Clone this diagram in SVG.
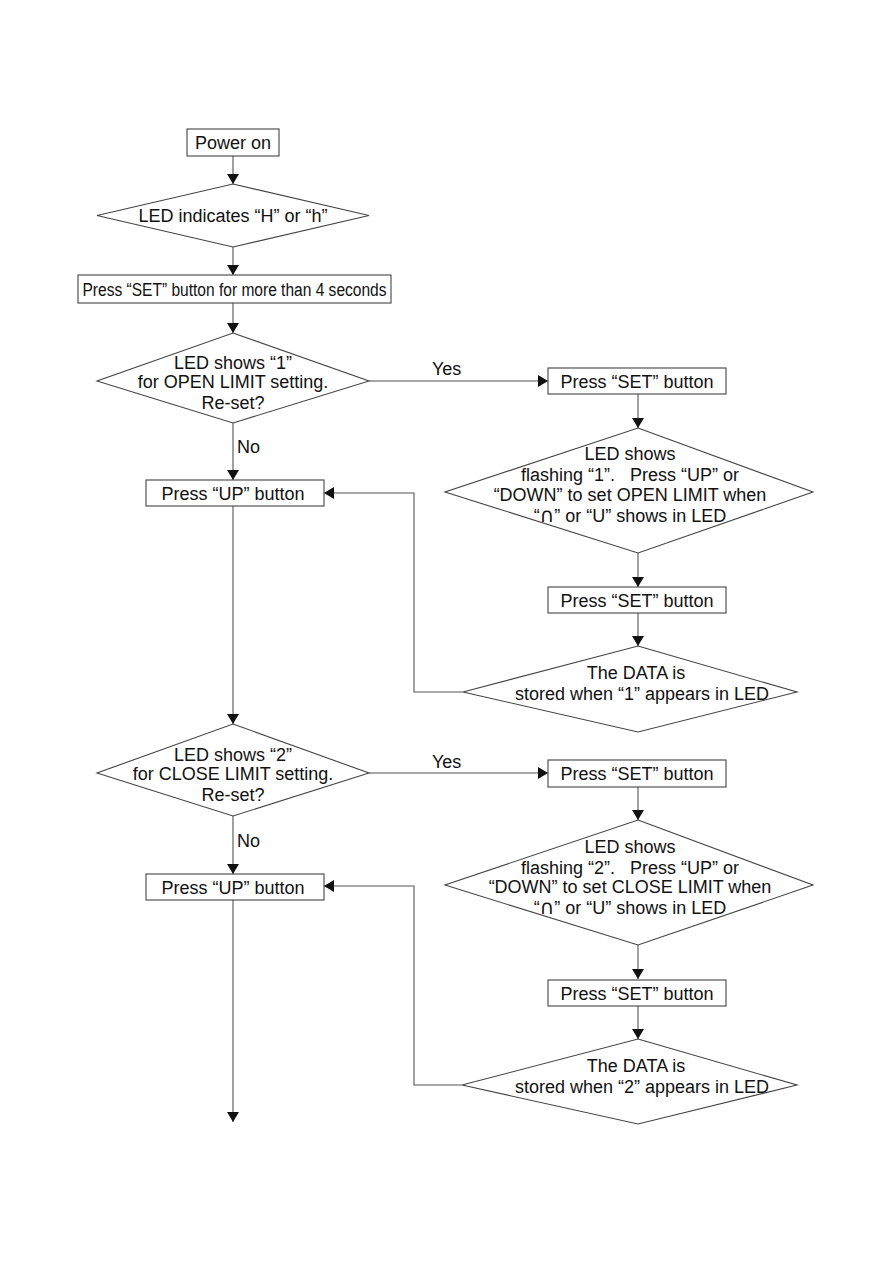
<svg xmlns="http://www.w3.org/2000/svg" width="893" height="1263" viewBox="0 0 893 1263">
<defs>
<marker id="ah" markerWidth="10" markerHeight="14" refX="10" refY="7" orient="auto" markerUnits="userSpaceOnUse">
<path d="M0,1 L10,7 L0,13 Z" fill="#111"/>
</marker>
<style>
.b{fill:#fff;stroke:#444;stroke-width:1.1}
.t{font-family:"Liberation Sans",Arial,"DejaVu Sans",sans-serif;font-size:18px;fill:#111;text-anchor:middle}
.l{font-family:"Liberation Sans",Arial,"DejaVu Sans",sans-serif;font-size:18px;fill:#111}
.c{fill:none;stroke:#555;stroke-width:1.1}
.a{marker-end:url(#ah)}
.cap{font-family:"DejaVu Sans",sans-serif;font-size:20px}
</style>
</defs>
<rect width="893" height="1263" fill="#fff"/>
<g id="connectors">
<line class="c a" x1="233" y1="156" x2="233" y2="184"/>
<line class="c a" x1="233" y1="247" x2="233" y2="275"/>
<line class="c a" x1="233" y1="303" x2="233" y2="333"/>
<line class="c a" x1="233" y1="423" x2="233" y2="480"/>
<line class="c a" x1="369" y1="381" x2="548" y2="381"/>
<line class="c a" x1="638" y1="394" x2="638" y2="428"/>
<line class="c a" x1="638" y1="553" x2="638" y2="587"/>
<line class="c a" x1="638" y1="613" x2="638" y2="646"/>
<polyline class="c a" points="463,692 414,692 414,493 324,493"/>
<line class="c a" x1="233" y1="506" x2="233" y2="724"/>
<line class="c a" x1="233" y1="816" x2="233" y2="874"/>
<line class="c a" x1="369" y1="773" x2="548" y2="773"/>
<line class="c a" x1="638" y1="787" x2="638" y2="820"/>
<line class="c a" x1="638" y1="945" x2="638" y2="979"/>
<line class="c a" x1="638" y1="1006" x2="638" y2="1039"/>
<polyline class="c a" points="462,1085 414,1085 414,886 324,886"/>
<line class="c a" x1="233" y1="900" x2="233" y2="1122"/>
<text class="l" x="432" y="375">Yes</text>
<text class="l" x="237" y="453">No</text>
<text class="l" x="432" y="768">Yes</text>
<text class="l" x="237" y="847">No</text>
</g>
<g id="power-on">
<rect class="b" x="187" y="129" width="92" height="27"/>
<text class="t" x="233" y="149">Power on</text>
</g>
<g id="led-h">
<polygon class="b" points="233,184 369,215.5 233,247 97,215.5"/>
<text class="t" x="233" y="222">LED indicates “H” or “h”</text>
</g>
<g id="press-set-4s">
<rect class="b" x="78" y="275" width="313" height="28"/>
<text class="t" x="234.5" y="296" textLength="304" lengthAdjust="spacingAndGlyphs">Press “SET” button for more than 4 seconds</text>
</g>
<g id="led-1">
<polygon class="b" points="233,333 369,381 233,423 97,381"/>
<text class="t" x="233" y="369">LED shows “1”</text>
<text class="t" x="233" y="388">for OPEN LIMIT setting.</text>
<text class="t" x="233" y="409">Re-set?</text>
</g>
<g id="press-up-1">
<rect class="b" x="146" y="480" width="178" height="26"/>
<text class="t" x="233" y="500">Press “UP” button</text>
</g>
<g id="press-set-1a">
<rect class="b" x="548" y="368" width="178" height="26"/>
<text class="t" x="637" y="388">Press “SET” button</text>
</g>
<g id="flash-1">
<polygon class="b" points="638,428 813,492 638,553 445,492"/>
<text class="t" x="630" y="460">LED shows</text>
<text class="t" x="630" y="481" xml:space="preserve">flashing “1”.   Press “UP” or</text>
<text class="t" x="630" y="501">“DOWN” to set OPEN LIMIT when</text>
<text class="t" x="630" y="522">“<tspan class="cap">∩</tspan>” or “U” shows in LED</text>
</g>
<g id="press-set-1b">
<rect class="b" x="548" y="587" width="178" height="26"/>
<text class="t" x="637" y="607">Press “SET” button</text>
</g>
<g id="stored-1">
<polygon class="b" points="638,646 797,692 638,732 463,692"/>
<text class="t" x="636" y="679">The DATA is</text>
<text class="t" x="642" y="700">stored when “1” appears in LED</text>
</g>
<g id="led-2">
<polygon class="b" points="233,724 369,773 233,816 97,773"/>
<text class="t" x="233" y="761">LED shows “2”</text>
<text class="t" x="233" y="780">for CLOSE LIMIT setting.</text>
<text class="t" x="233" y="801">Re-set?</text>
</g>
<g id="press-up-2">
<rect class="b" x="146" y="874" width="178" height="26"/>
<text class="t" x="233" y="894">Press “UP” button</text>
</g>
<g id="press-set-2a">
<rect class="b" x="548" y="760" width="178" height="27"/>
<text class="t" x="637" y="780">Press “SET” button</text>
</g>
<g id="flash-2">
<polygon class="b" points="638,820 813,885 638,945 445,885"/>
<text class="t" x="630" y="853">LED shows</text>
<text class="t" x="630" y="874" xml:space="preserve">flashing “2”.   Press “UP” or</text>
<text class="t" x="630" y="893">“DOWN” to set CLOSE LIMIT when</text>
<text class="t" x="630" y="914">“<tspan class="cap">∩</tspan>” or “U” shows in LED</text>
</g>
<g id="press-set-2b">
<rect class="b" x="548" y="980" width="178" height="26"/>
<text class="t" x="637" y="1000">Press “SET” button</text>
</g>
<g id="stored-2">
<polygon class="b" points="638,1039 797,1085 638,1124 462,1085"/>
<text class="t" x="636" y="1072">The DATA is</text>
<text class="t" x="642" y="1093">stored when “2” appears in LED</text>
</g>
</svg>
